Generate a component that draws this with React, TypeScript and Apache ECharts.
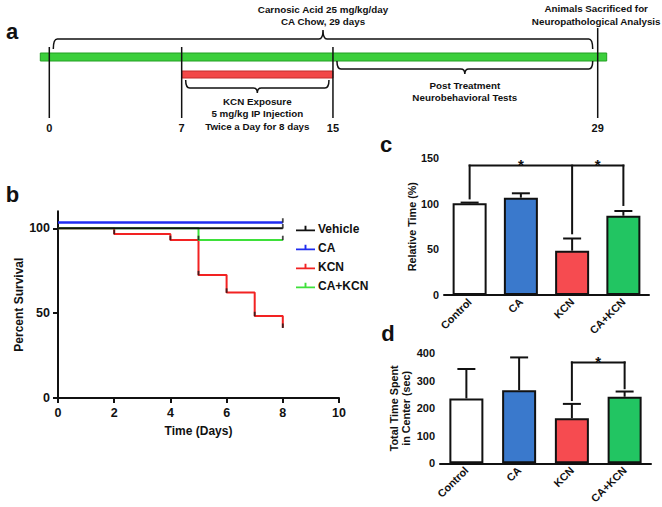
import React, { useEffect, useRef } from "react";
import * as echarts from "echarts";

const FONT = '"Liberation Sans", Arial, Helvetica, sans-serif';

// ---------- Panel a: experimental timeline (days) ----------
const timelineDays = [0, 7, 15, 29];
const caChowPeriod = [0, 29];
const kcnPeriod = [7, 15];
const postTreatmentPeriod = [15, 29];
const sacrificeDay = 29;
const caChowText = ["Carnosic Acid 25 mg/kg/day", "CA Chow, 29 days"];
const kcnText = ["KCN Exposure", "5 mg/kg IP Injection", "Twice a Day for 8 days"];
const postText = ["Post Treatment", "Neurobehavioral Tests"];
const sacrificeText = ["Animals Sacrificed for", "Neuropathological Analysis"];

// ---------- Panel b: survival (%) ----------
const survivalNames = ["Vehicle", "CA", "KCN", "CA+KCN"];
const vehicleDays = [0, 8];
const vehicleSurvival = [100, 100];
const caDays = [0, 8];
const caSurvival = [100, 100];
const kcnDays = [0, 2, 4, 5, 6, 7, 8];
const kcnSurvival = [100, 96.6, 93.1, 72.4, 62.1, 48.3, 41.4];
const caKcnDays = [0, 5, 8];
const caKcnSurvival = [100, 93.1, 93.1];
const survivalYTicks = [0, 50, 100];

// ---------- Panels c, d ----------
const groups = ["Control", "CA", "KCN", "CA+KCN"];
const relativeTime = [100.6, 106.8, 48.6, 87.0];
const relativeTimeSem = [0.8, 4.8, 13.4, 5.2];
const centerTime = [236, 266, 164, 242];
const centerTimeSem = [107, 119, 52, 19];
// significance brackets: level, [group index, lower end], star pairs
const relSigLevel = 142;
const relSigDrops = [[0, 106], [2, 67.7], [3, 98.8]];
const relSigStars = [[0, 2], [2, 3]];
const centerSigLevel = 367;
const centerSigDrops = [[2, 230], [3, 273]];
const centerSigStars = [[2, 3]];

// ---------- styles / layout ----------
const BAR_COLORS = ["#ffffff", "#3a79cc", "#f64b50", "#22c562"];
const SURV_COLORS = { Vehicle: "#111111", CA: "#1f2cf0", KCN: "#f22222", "CA+KCN": "#3ee03a" };
const CA_DISPLAY_OFFSET = 3.4; // GraphPad-style offset of overlapping curve
const TL_BARS = [
  { y: 53, h: 8, pad: 9, fill: "#3ccf3c", stroke: "#22a022" },
  { y: 71, h: 7, pad: 0, fill: "#f24848", stroke: "#c42c2c" },
];
const TL_TICK_TOP = [47, 47, 47, 28];
const TL_TICK_BOTTOM = 118;
const TL_LABEL_Y = 128;
const BRACE_LAYOUT = [
  { yEnd: 49, yLine: 39, yTip: 30, inset: [4, 5], textY: [9, 21] },
  { yEnd: 80, yLine: 88, yTip: 93, inset: [4, 4], textY: [101, 113, 126] },
  { yEnd: 61, yLine: 69, yTip: 74, inset: [4, 5], textY: [85, 97] },
];
const TL_FONT = `bold 9.8px ${FONT}`;

function bracePath(x1: number, x2: number, yEnd: number, yLine: number, yTip: number) {
  const xc = (x1 + x2) / 2;
  const r = 4;
  return `M${x1},${yEnd} Q${x1},${yLine} ${x1 + r},${yLine} L${xc - r},${yLine} Q${xc},${yLine} ${xc},${yTip} Q${xc},${yLine} ${xc + r},${yLine} L${x2 - r},${yLine} Q${x2},${yLine} ${x2},${yEnd}`;
}

const blackLine = { stroke: "#111", lineWidth: 2, lineCap: "square" };

function errorBarRender(params: any, api: any) {
  const i = api.value(0);
  const m = api.value(1);
  const e = api.value(2);
  const p0 = api.coord([i, m]);
  const p1 = api.coord([i, m + e]);
  const half = 9;
  return {
    type: "group",
    children: [
      { type: "line", shape: { x1: p0[0], y1: p0[1], x2: p1[0], y2: p1[1] }, style: { stroke: "#111", lineWidth: 2 } },
      { type: "line", shape: { x1: p1[0] - half, y1: p1[1], x2: p1[0] + half, y2: p1[1] }, style: { stroke: "#111", lineWidth: 2 } },
    ],
  };
}

function bracketRender(level: number, drops: number[][], stars: number[][]) {
  return (params: any, api: any) => {
    const tops = drops.map((d) => api.coord([d[0], level]));
    const xs = tops.map((p: number[]) => p[0]);
    const yL = tops[0][1];
    const children: any[] = [
      { type: "line", shape: { x1: Math.min(...xs), y1: yL, x2: Math.max(...xs), y2: yL }, style: blackLine },
    ];
    drops.forEach((d) => {
      const t = api.coord([d[0], level]);
      const b = api.coord([d[0], d[1]]);
      children.push({ type: "line", shape: { x1: t[0], y1: t[1], x2: b[0], y2: b[1] }, style: blackLine });
    });
    stars.forEach(([a, b]) => {
      const pa = api.coord([a, level]);
      const pb = api.coord([b, level]);
      children.push({
        type: "text",
        x: (pa[0] + pb[0]) / 2,
        y: yL - 1,
        style: { text: "*", font: `bold 15px ${FONT}`, fill: "#111", align: "center", verticalAlign: "middle" },
      });
    });
    return { type: "group", children };
  };
}

const axisCommon = {
  axisLine: { lineStyle: { color: "#111", width: 2 } },
  axisTick: { length: 4, lineStyle: { color: "#111", width: 2 } },
  splitLine: { show: false },
};

export default function App() {
  const ref = useRef<HTMLDivElement>(null);
  useEffect(() => {
    if (!ref.current) return;
    const chart = echarts.init(ref.current, null, { renderer: "svg" });

    const survLine = (name: string, days: number[], vals: number[], offset = 0, width = 2) => ({
      type: "line",
      name,
      xAxisIndex: 1,
      yAxisIndex: 1,
      step: "end",
      symbol: "none",
      silent: true,
      color: (SURV_COLORS as any)[name],
      lineStyle: { color: (SURV_COLORS as any)[name], width },
      data: days.map((d, i) => [d, vals[i] + offset]),
      z: 3,
    });

    const censor = (days: number[], vals: number[], offset = 0) =>
      days.slice(1).map((d, i) => [d, vals[i + 1] + offset]);

    const catLabel = { color: "#111", fontWeight: "bold", fontSize: 10.8, rotate: 45, margin: 5, interval: 0, fontFamily: FONT };

    const option: any = {
      animation: false,
      backgroundColor: "#ffffff",
      textStyle: { fontFamily: FONT },
      grid: [
        { left: 49.3, top: 0, width: 548.4, height: 140 },
        { left: 58, top: 211.3, width: 281, height: 186.7 },
        { left: 444, top: 158.3, width: 205, height: 136.7 },
        { left: 440, top: 353.3, width: 211, height: 110 },
      ],
      xAxis: [
        { gridIndex: 0, type: "value", min: 0, max: 29, show: false },
        {
          gridIndex: 1,
          type: "value",
          min: 0,
          max: 10,
          interval: 2,
          ...axisCommon,
          axisTick: { length: 5, lineStyle: { color: "#111", width: 2 } },
          axisLabel: { color: "#111", fontWeight: "bold", fontSize: 12.5, margin: 8, fontFamily: FONT },
          name: "Time (Days)",
          nameLocation: "middle",
          nameGap: 27,
          nameTextStyle: { color: "#111", fontWeight: "bold", fontSize: 12, fontFamily: FONT },
        },
        { gridIndex: 2, type: "category", data: groups, ...axisCommon, axisTick: { show: false }, axisLabel: catLabel },
        { gridIndex: 3, type: "category", data: groups, ...axisCommon, axisTick: { show: false }, axisLabel: catLabel },
      ],
      yAxis: [
        { gridIndex: 0, type: "value", min: 0, max: 1, show: false },
        {
          gridIndex: 1,
          type: "value",
          min: 0,
          max: 110,
          interval: 50,
          ...axisCommon,
          axisTick: { length: 5, lineStyle: { color: "#111", width: 2 }, customValues: survivalYTicks },
          axisLabel: { color: "#111", fontWeight: "bold", fontSize: 12.5, margin: 8, customValues: survivalYTicks, fontFamily: FONT },
          name: "Percent Survival",
          nameLocation: "middle",
          nameGap: 30,
          nameTextStyle: { color: "#111", fontWeight: "bold", fontSize: 12, fontFamily: FONT },
        },
        {
          gridIndex: 2,
          type: "value",
          min: 0,
          max: 150,
          interval: 50,
          ...axisCommon,
          axisLabel: { color: "#111", fontWeight: "bold", fontSize: 10.8, margin: 5, fontFamily: FONT },
          name: "Relative Time (%)",
          nameLocation: "middle",
          nameGap: 27,
          nameTextStyle: { color: "#111", fontWeight: "bold", fontSize: 10.8, fontFamily: FONT },
        },
        {
          gridIndex: 3,
          type: "value",
          min: 0,
          max: 400,
          interval: 100,
          ...axisCommon,
          axisLabel: { color: "#111", fontWeight: "bold", fontSize: 11, margin: 5, fontFamily: FONT },
          name: "Total Time Spent\nin Center (sec)",
          nameLocation: "middle",
          nameGap: 28,
          nameTextStyle: { color: "#111", fontWeight: "bold", fontSize: 10.8, lineHeight: 12, fontFamily: FONT },
        },
      ],
      legend: {
        data: survivalNames,
        orient: "vertical",
        left: 291,
        top: 217.5,
        itemWidth: 19,
        itemHeight: 6,
        itemGap: 7,
        icon: "path://M0,4h20v2h-20z M9,0h2v4h-2z",
        itemStyle: { borderWidth: 0 },
        selectedMode: false,
        textStyle: { color: "#111", fontWeight: "bold", fontSize: 12, fontFamily: FONT, padding: [0, 0, 0, -2] },
      },
      graphic: [
        { type: "text", x: 12, y: 31, style: { text: "a", font: `bold 22px ${FONT}`, fill: "#111", align: "center", verticalAlign: "middle" } },
        { type: "text", x: 12.5, y: 194, style: { text: "b", font: `bold 22px ${FONT}`, fill: "#111", align: "center", verticalAlign: "middle" } },
        { type: "text", x: 386, y: 144, style: { text: "c", font: `bold 22px ${FONT}`, fill: "#111", align: "center", verticalAlign: "middle" } },
        { type: "text", x: 388, y: 333, style: { text: "d", font: `bold 22px ${FONT}`, fill: "#111", align: "center", verticalAlign: "middle" } },
      ],
      series: [
        // ----- panel a -----
        {
          type: "custom",
          name: "timeline-bars",
          xAxisIndex: 0,
          yAxisIndex: 0,
          silent: true,
          data: [caChowPeriod, kcnPeriod],
          renderItem: (params: any, api: any) => {
            const L = TL_BARS[params.dataIndex];
            const x1 = api.coord([api.value(0), 0])[0] - L.pad;
            const x2 = api.coord([api.value(1), 0])[0] + L.pad;
            return {
              type: "rect",
              shape: { x: x1, y: L.y, width: x2 - x1, height: L.h },
              style: { fill: L.fill, stroke: L.stroke, lineWidth: 1 },
            };
          },
        },
        {
          type: "custom",
          name: "timeline-ticks",
          xAxisIndex: 0,
          yAxisIndex: 0,
          silent: true,
          data: timelineDays.map((d) => [d]),
          renderItem: (params: any, api: any) => {
            const day = api.value(0);
            const x = api.coord([day, 0])[0];
            return {
              type: "group",
              children: [
                { type: "line", shape: { x1: x, y1: TL_TICK_TOP[params.dataIndex], x2: x, y2: TL_TICK_BOTTOM }, style: { stroke: "#111", lineWidth: 1.5 } },
                { type: "text", x, y: TL_LABEL_Y, style: { text: String(day), font: `bold 11px ${FONT}`, fill: "#111", align: "center", verticalAlign: "middle" } },
              ],
            };
          },
        },
        {
          type: "custom",
          name: "timeline-braces",
          xAxisIndex: 0,
          yAxisIndex: 0,
          silent: true,
          data: [caChowPeriod, kcnPeriod, postTreatmentPeriod],
          renderItem: (params: any, api: any) => {
            const L = BRACE_LAYOUT[params.dataIndex];
            const texts = [caChowText, kcnText, postText][params.dataIndex];
            const x1 = api.coord([api.value(0), 0])[0] + L.inset[0];
            const x2 = api.coord([api.value(1), 0])[0] - L.inset[1];
            const xc = (x1 + x2) / 2;
            const children: any[] = [
              {
                type: "path",
                shape: { pathData: bracePath(x1, x2, L.yEnd, L.yLine, L.yTip) },
                style: { fill: "none", stroke: "#111", lineWidth: 1.5 },
              },
            ];
            texts.forEach((t, k) => {
              children.push({ type: "text", x: xc, y: L.textY[k], style: { text: t, font: TL_FONT, fill: "#111", align: "center", verticalAlign: "middle" } });
            });
            return { type: "group", children };
          },
        },
        {
          type: "custom",
          name: "timeline-sacrifice",
          xAxisIndex: 0,
          yAxisIndex: 0,
          silent: true,
          data: [[sacrificeDay]],
          renderItem: (params: any, api: any) => {
            const x = api.coord([api.value(0), 0])[0] - 1.5;
            return {
              type: "group",
              children: sacrificeText.map((t, k) => ({
                type: "text",
                x,
                y: 8.5 + k * 12.5,
                style: { text: t, font: TL_FONT, fill: "#111", align: "center", verticalAlign: "middle" },
              })),
            };
          },
        },
        // ----- panel b -----
        survLine("KCN", kcnDays, kcnSurvival),
        survLine("CA+KCN", caKcnDays, caKcnSurvival),
        survLine("CA", caDays, caSurvival, CA_DISPLAY_OFFSET, 2.5),
        survLine("Vehicle", vehicleDays, vehicleSurvival),
        {
          type: "scatter",
          name: "censor",
          xAxisIndex: 1,
          yAxisIndex: 1,
          silent: true,
          symbol: "rect",
          symbolSize: [1.8, 4.5],
          symbolOffset: [0, -2],
          itemStyle: { color: "#1a1a1a" },
          z: 4,
          data: [
            ...censor(vehicleDays, vehicleSurvival),
            ...censor(caDays, caSurvival, CA_DISPLAY_OFFSET),
            ...censor(kcnDays, kcnSurvival),
            ...censor(caKcnDays, caKcnSurvival),
          ],
        },
        // ----- panel c -----
        {
          type: "bar",
          xAxisIndex: 2,
          yAxisIndex: 2,
          barWidth: 34,
          silent: true,
          data: relativeTime.map((v, i) => ({ value: v, itemStyle: { color: BAR_COLORS[i] } })),
          itemStyle: { borderColor: "#111", borderWidth: 2 },
        },
        {
          type: "custom",
          xAxisIndex: 2,
          yAxisIndex: 2,
          silent: true,
          data: relativeTime.map((v, i) => [i, v, relativeTimeSem[i]]),
          renderItem: errorBarRender,
          z: 3,
        },
        {
          type: "custom",
          xAxisIndex: 2,
          yAxisIndex: 2,
          silent: true,
          data: [[0, relSigLevel]],
          renderItem: bracketRender(relSigLevel, relSigDrops, relSigStars),
          z: 3,
        },
        // ----- panel d -----
        {
          type: "bar",
          xAxisIndex: 3,
          yAxisIndex: 3,
          barWidth: 34,
          silent: true,
          data: centerTime.map((v, i) => ({ value: v, itemStyle: { color: BAR_COLORS[i] } })),
          itemStyle: { borderColor: "#111", borderWidth: 2 },
        },
        {
          type: "custom",
          xAxisIndex: 3,
          yAxisIndex: 3,
          silent: true,
          data: centerTime.map((v, i) => [i, v, centerTimeSem[i]]),
          renderItem: errorBarRender,
          z: 3,
        },
        {
          type: "custom",
          xAxisIndex: 3,
          yAxisIndex: 3,
          silent: true,
          data: [[2, centerSigLevel]],
          renderItem: bracketRender(centerSigLevel, centerSigDrops, centerSigStars),
          z: 3,
        },
      ],
    };
    chart.setOption(option);
    return () => chart.dispose();
  }, []);

  return (
    <div
      ref={ref}
      style={{ position: "absolute", left: 0, top: 0, width: 662, height: 507, background: "#fff" }}
    />
  );
}
